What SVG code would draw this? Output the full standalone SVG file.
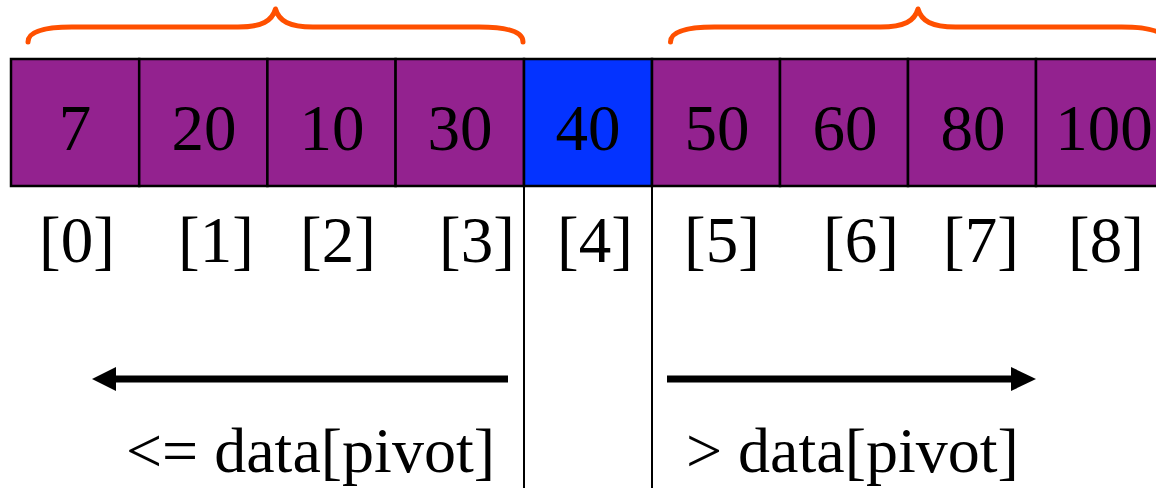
<svg xmlns="http://www.w3.org/2000/svg" width="1156" height="488" viewBox="0 0 1156 488">
<defs>
<style>
.cell{fill:#93228f;stroke:#000;stroke-width:2.5}
.pivot{fill:#0433ff;stroke:#000;stroke-width:2.5}
.t{font-family:"Liberation Serif","Times New Roman",serif;font-size:65px;fill:#000}
.lbl{font-size:64px}
.c{text-anchor:middle}
.brace{fill:none;stroke:#ff5000;stroke-width:5;stroke-linecap:round;stroke-linejoin:round}
.arr{stroke:#000;stroke-width:7;fill:none}
.div{stroke:#000;stroke-width:2}
</style>
<path id="brace" d="M28,42 C28,31 45,27 72,27 L238,27 C262,27 272,21 275.5,9 C279,21 289,27 313,27 L479,27 C506,27 523,31 523,42"/>
</defs>
<rect width="1156" height="488" fill="#fff"/>
<g id="braces">
<use href="#brace" class="brace"/>
<use href="#brace" class="brace" transform="translate(642.5,0)"/>
</g>
<g id="cells">
<g id="cell0"><rect class="cell" x="11" y="59" width="128.2" height="127"/><text class="t c" x="75" y="150">7</text></g>
<g id="cell1"><rect class="cell" x="139.2" y="59" width="128.2" height="127"/><text class="t c" x="204" y="150">20</text></g>
<g id="cell2"><rect class="cell" x="267.4" y="59" width="128.2" height="127"/><text class="t c" x="332" y="150">10</text></g>
<g id="cell3"><rect class="cell" x="395.6" y="59" width="128.4" height="127"/><text class="t c" x="460" y="150">30</text></g>
<g id="cell4"><rect class="pivot" x="524" y="59" width="128" height="127"/><text class="t c" x="588" y="150">40</text></g>
<g id="cell5"><rect class="cell" x="652" y="59" width="128" height="127"/><text class="t c" x="717" y="150">50</text></g>
<g id="cell6"><rect class="cell" x="780" y="59" width="128" height="127"/><text class="t c" x="845" y="150">60</text></g>
<g id="cell7"><rect class="cell" x="908" y="59" width="128" height="127"/><text class="t c" x="973" y="150">80</text></g>
<g id="cell8"><rect class="cell" x="1036" y="59" width="128" height="127"/><text class="t c" x="1104" y="150">100</text></g>
</g>
<g id="indices">
<text class="t c" x="77" y="262">[0]</text>
<text class="t c" x="216" y="262">[1]</text>
<text class="t c" x="338" y="262">[2]</text>
<text class="t c" x="477" y="262">[3]</text>
<text class="t c" x="595" y="262">[4]</text>
<text class="t c" x="722" y="262">[5]</text>
<text class="t c" x="861" y="262">[6]</text>
<text class="t c" x="981" y="262">[7]</text>
<text class="t c" x="1106" y="262">[8]</text>
</g>
<g id="connectors">
<line class="div" x1="524" y1="186" x2="524" y2="488"/>
<line class="div" x1="652" y1="186" x2="652" y2="488"/>
<line class="arr" x1="112" y1="379" x2="508" y2="379"/>
<polygon points="92,379 116,367 116,391" fill="#000"/>
<line class="arr" x1="667" y1="379" x2="1014" y2="379"/>
<polygon points="1036,379 1011,367 1011,391" fill="#000"/>
</g>
<g id="labels">
<text class="t lbl" x="126" y="472">&lt;= data[pivot]</text>
<text class="t lbl" x="686" y="472">&gt; data[pivot]</text>
</g>
</svg>
